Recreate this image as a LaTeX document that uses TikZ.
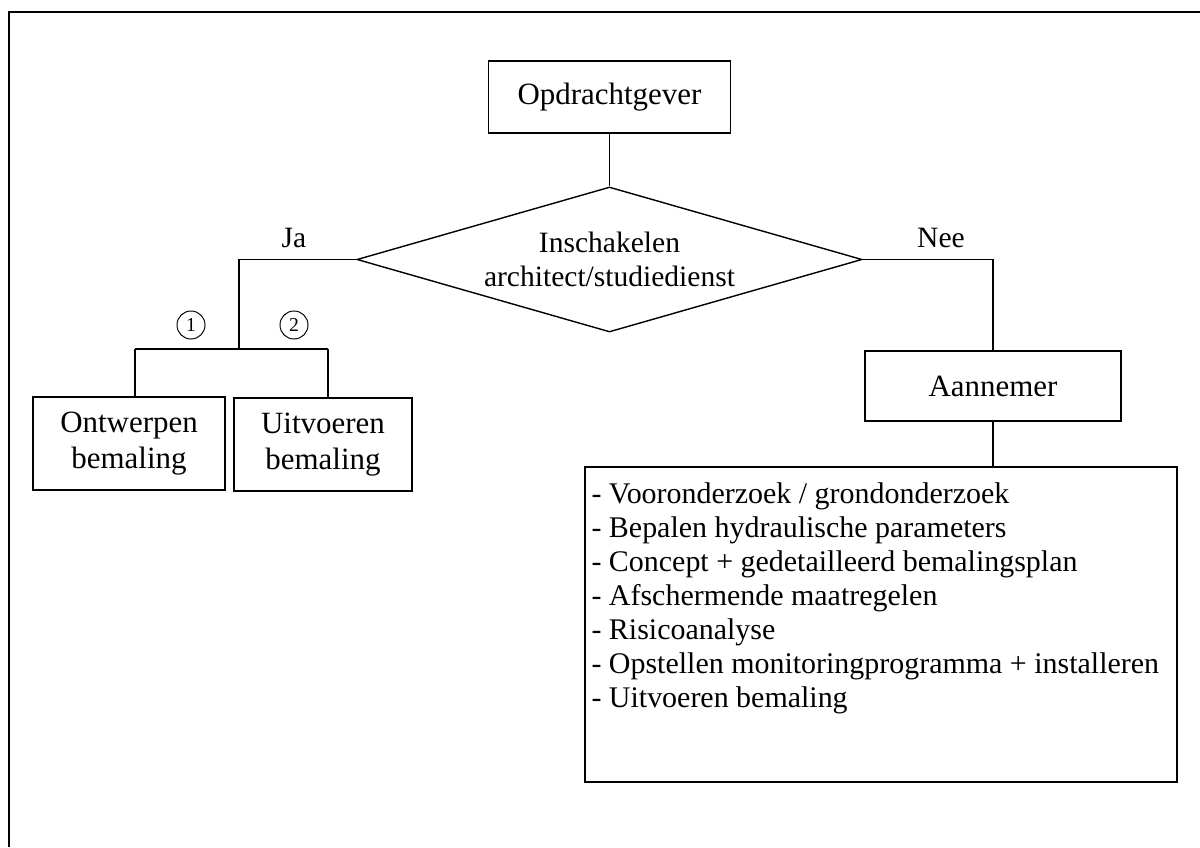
\documentclass[tikz,border=0pt]{standalone}
\usepackage{fontspec}
\setmainfont{Liberation Serif}
\usetikzlibrary{shapes.geometric}
\begin{document}
\begin{tikzpicture}[x=0.025cm,y=-0.025cm]
    \tikzset{box/.style = {shape=rectangle,draw,line width=1pt,align=center,inner sep=0pt,font=\fontsize{22}{26}\selectfont}}
    \tikzset{choice/.style = {shape=diamond,draw,line width=1pt,align=center,aspect=3.48,inner sep=0pt,minimum width=12.625cm,minimum height=3.625cm,font=\fontsize{21}{24.2}\selectfont}}
    \tikzset{num/.style = {shape=circle,draw,line width=0.7pt,inner sep=0pt,minimum size=0.7cm,font=\fontsize{14}{14}\selectfont}}
    \tikzset{label/.style = {font=\fontsize{21}{24}\selectfont}}
    \tikzset{link/.style = {line width=1pt}}
    \useasboundingbox (0,0) rectangle (1200,847);
    \draw[line width=1.6pt] (9,847) -- (9,12) -- (1200,12);
    \node[box,minimum width=6.05cm,minimum height=1.8cm] (opdr) at (609.5,97) {Opdrachtgever};
    \node[choice] (keuze) at (609.5,259.5) {Inschakelen\\architect/studiedienst};
    \node[label] (ja) at (294,238) {Ja};
    \node[label] (nee) at (941,238) {Nee};
    \node[num] (n1) at (191,325) {1};
    \node[num] (n2) at (294,325) {2};
    \node[box,minimum width=4.8cm,minimum height=2.325cm] (ontw) at (129,443.5) {Ontwerpen\\bemaling};
    \node[box,minimum width=4.45cm,minimum height=2.325cm] (uitv) at (323,444.5) {Uitvoeren\\bemaling};
    \node[box,minimum width=6.4cm,minimum height=1.75cm] (aann) at (993,386) {Aannemer};
    \node[box,minimum width=14.8cm,minimum height=7.875cm] (lijst) at (881,624.5) {};
    \node[anchor=north west,align=left,inner sep=0pt,font=\fontsize{21.3}{24.2}\selectfont] (taken) at ([shift={(7,16)}]lijst.north west)
        {- Vooronderzoek / grondonderzoek\\
         - Bepalen hydraulische parameters\\
         - Concept + gedetailleerd bemalingsplan\\
         - Afschermende maatregelen\\
         - Risicoanalyse\\
         - Opstellen monitoringprogramma + installeren\\
         - Uitvoeren bemaling};
    \coordinate (jahoek) at (239,259.5);
    \coordinate (jasplit) at (239,349);
    \coordinate (s1) at (135,349);
    \coordinate (s2) at (328,349);
    \coordinate (neehoek) at (993,259.5);
    \draw[link] (opdr) -- (keuze);
    \draw[link] (keuze.west) -- (jahoek) -- (jasplit);
    \draw[link] (s1) -- (s2);
    \draw[link] (s1) -- (s1 |- ontw.north);
    \draw[link] (s2) -- (s2 |- uitv.north);
    \draw[link] (keuze.east) -- (neehoek) -- (aann.north);
    \draw[link] (aann) -- (lijst.north -| aann.south);
\end{tikzpicture}
\end{document}
